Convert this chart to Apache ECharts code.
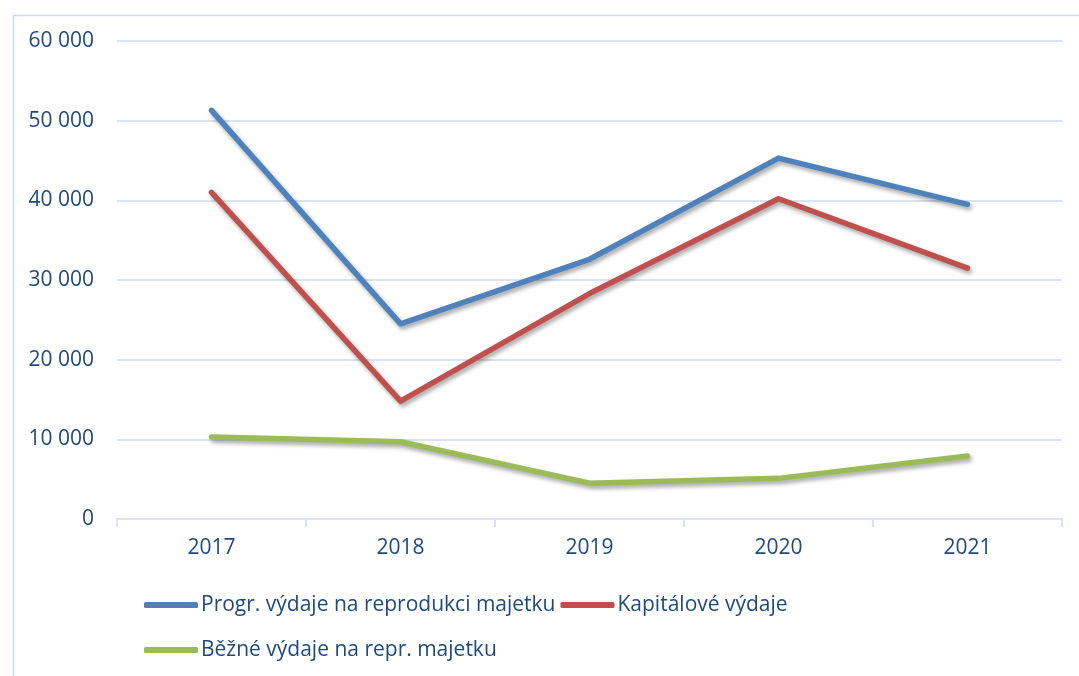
<!DOCTYPE html>
<html>
<head>
<meta charset="utf-8">
<script src="https://cdn.jsdelivr.net/npm/echarts@6/dist/echarts.min.js"></script>
<style>
  html, body { margin: 0; padding: 0; background: #fff; }
  #chart { width: 1079px; height: 676px; }
</style>
</head>
<body>
<div id="chart"></div>
<script>
// roky
var years = ['2017', '2018', '2019', '2020', '2021'];
// Progr. výdaje na reprodukci majetku
var progrVydaje = [51300, 24500, 32600, 45300, 39500];
// Kapitálové výdaje
var kapitalove = [41000, 14800, 28300, 40200, 31500];
// Běžné výdaje na repr. majetku
var bezne = [10300, 9700, 4500, 5100, 7900];
var seriesNames = ['Progr. výdaje na reprodukci majetku', 'Kapitálové výdaje', 'Běžné výdaje na repr. majetku'];
var colors = ['#4F81BD', '#C0504D', '#9BBB59'];

(function () {
  var myChart = echarts.init(document.getElementById('chart'));
  var textColor = '#1F497D';
  var gridColor = '#D9E3F1';

  function lineSeries(name, data, color) {
    return {
      name: name,
      type: 'line',
      data: data,
      symbol: 'none',
      color: color,
      lineStyle: {
        width: 5.5,
        color: color,
        cap: 'round',
        join: 'round',
        shadowColor: 'rgba(0, 0, 0, 0.35)',
        shadowBlur: 4,
        shadowOffsetX: 2,
        shadowOffsetY: 3
      }
    };
  }

  var option = {
    animation: false,
    textStyle: { fontFamily: 'Open Sans' },
    graphic: [{
      type: 'rect',
      left: 11,
      top: 13,
      shape: { width: 1100, height: 700 },
      style: { fill: 'none', stroke: '#C9DBF1', lineWidth: 1.5 },
      silent: true
    }],
    grid: {
      left: 117,
      right: 17,
      top: 41,
      bottom: 157
    },
    legend: {
      left: 139,
      top: 580,
      width: 650,
      itemWidth: 54,
      itemHeight: 6,
      itemGap: 5,
      icon: 'roundRect',
      data: seriesNames,
      textStyle: {
        color: textColor,
        fontSize: 21,
        fontFamily: 'Open Sans',
        lineHeight: 40,
        padding: [0, 0, 0, -2]
      }
    },
    xAxis: {
      type: 'category',
      data: years,
      boundaryGap: true,
      axisLine: { lineStyle: { color: gridColor, width: 2 } },
      axisTick: { show: true, length: 8, lineStyle: { color: gridColor, width: 2 } },
      axisLabel: { color: textColor, fontSize: 21, margin: 19 }
    },
    yAxis: {
      type: 'value',
      min: 0,
      max: 60000,
      interval: 10000,
      axisLine: { show: false },
      axisTick: { show: false },
      splitLine: { lineStyle: { color: gridColor, width: 2 } },
      axisLabel: {
        color: textColor,
        fontSize: 21,
        margin: 23,
        formatter: function (v) {
          return String(v).replace(/\B(?=(\d{3})+(?!\d))/g, ' ');
        }
      }
    },
    series: [
      lineSeries(seriesNames[0], progrVydaje, colors[0]),
      lineSeries(seriesNames[1], kapitalove, colors[1]),
      lineSeries(seriesNames[2], bezne, colors[2])
    ]
  };
  myChart.setOption(option);
})();
</script>
</body>
</html>
